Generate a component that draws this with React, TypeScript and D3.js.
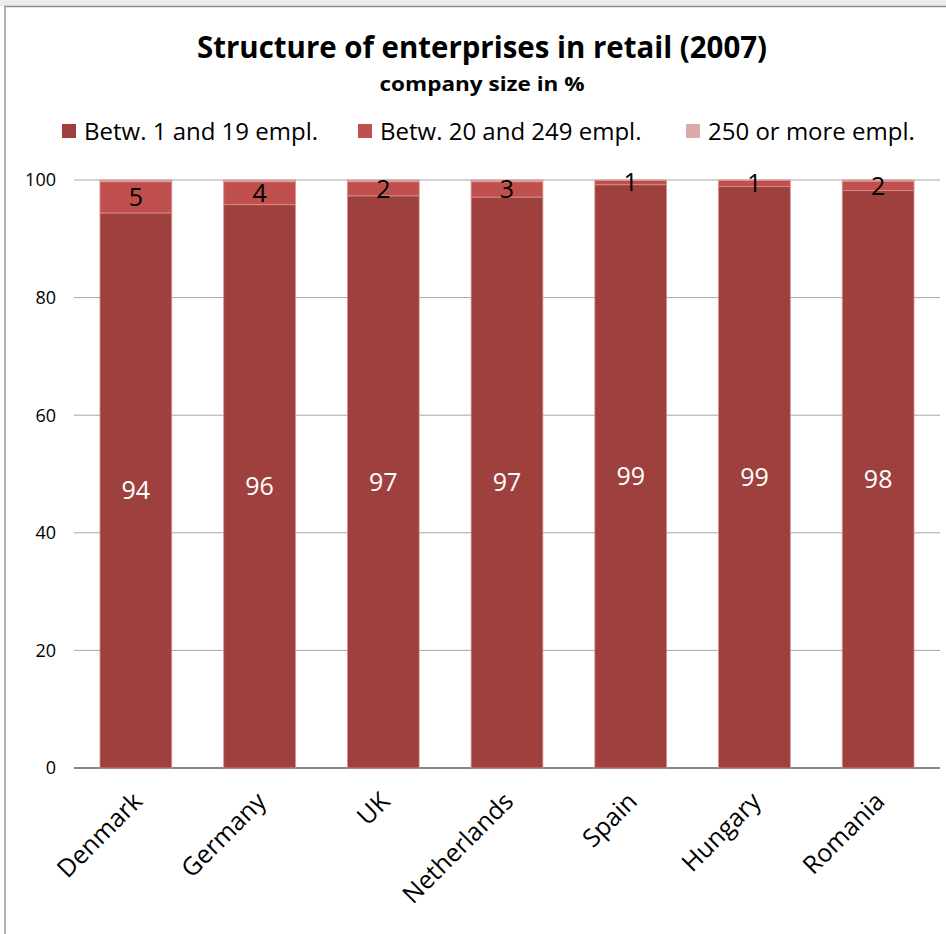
import React from "react";
import * as d3 from "d3";

const countries = ["Denmark", "Germany", "UK", "Netherlands", "Spain", "Hungary", "Romania"];
const small = [94.4, 95.8, 97.3, 97.1, 99.2, 98.9, 98.2];
const medium = [5.3, 3.9, 2.4, 2.6, 0.7, 1.0, 1.6];
const large = [0.3, 0.3, 0.3, 0.3, 0.1, 0.1, 0.2];
const smallLabels = ["94", "96", "97", "97", "99", "99", "98"];
const mediumLabels = ["5", "4", "2", "3", "1", "1", "2"];
const seriesNames = ["Betw. 1 and 19 empl.", "Betw. 20 and 249 empl.", "250 or more empl."];
const yTicks = [0, 20, 40, 60, 80, 100];

const colors = ["#9e413e", "#c0504d", "#dcaaa9"];
const FONT = "'Open Sans', 'DejaVu Sans', sans-serif";

export default function App() {
  const W = 946, H = 934;
  const left = 74, right = 940, top = 180, bottom = 768;
  const x = d3.scaleBand<string>().domain(countries).range([left, right]).paddingInner(0.42).paddingOuter(0.21);
  const y = d3.scaleLinear().domain([0, 100]).range([bottom, top]);

  const rows = countries.map((c, i) => ({ c, s: small[i], m: medium[i], l: large[i] }));
  const stack = d3.stack<any>().keys(["s", "m", "l"])(rows);

  const legendX = [62, 358, 686];

  return (
    <svg width={W} height={H} style={{ display: "block", position: "absolute", left: 0, top: 0 }}>
      <rect x={0} y={0} width={W} height={H} fill="#fff" />
      <rect x={0} y={0} width={W} height={6} fill="#ebebeb" />
      <line x1={4} x2={W} y1={6.5} y2={6.5} stroke="#8c8c8c" strokeWidth={1.5} />
      <line x1={5} x2={5} y1={6} y2={H} stroke="#9a9a9a" strokeWidth={1.5} />

      <text x={482} y={58} textAnchor="middle" fontFamily={FONT} fontWeight="bold" fontSize={30}
        textLength={570} lengthAdjust="spacingAndGlyphs" fill="#000">
        Structure of enterprises in retail (2007)
      </text>
      <text x={482} y={91} textAnchor="middle" fontFamily={FONT} fontWeight="bold" fontSize={20}
        textLength={205} lengthAdjust="spacingAndGlyphs" fill="#000">
        company size in %
      </text>

      {seriesNames.map((n, i) => (
        <g key={n}>
          <rect x={legendX[i]} y={124} width={14} height={14} fill={colors[i]} />
          <text x={legendX[i] + 22} y={140} fontFamily={FONT} fontSize={24} fill="#000">{n}</text>
        </g>
      ))}

      {yTicks.map((t) => (
        <g key={t}>
          <line x1={left} x2={right} y1={y(t)} y2={y(t)} stroke={t === 0 ? "#868686" : "#a6a6a6"} strokeWidth={t === 0 ? 2 : 1} />
          <text x={56} y={y(t)} dy="0.35em" textAnchor="end" fontFamily={FONT} fontSize={18} fill="#000">{t}</text>
        </g>
      ))}

      {stack.map((layer, si) => (
        <g key={si}>
          {layer.map((d, i) => (
            <rect key={i} x={x(countries[i])!} width={x.bandwidth()} y={y(d[1])} height={y(d[0]) - y(d[1])}
              fill={colors[si]} stroke="#d98f8d" strokeWidth={0.8} />
          ))}
        </g>
      ))}

      {countries.map((c, i) => {
        const cx = x(c)! + x.bandwidth() / 2;
        return (
          <g key={c}>
            <text x={cx} y={y(small[i] / 2)} dy="0.35em" textAnchor="middle" fontFamily={FONT} fontSize={25} fill="#fff">{smallLabels[i]}</text>
            <text x={cx} y={y(small[i] + medium[i] / 2)} dy="0.35em" textAnchor="middle" fontFamily={FONT} fontSize={25} fill="#000">{mediumLabels[i]}</text>
            <text transform={`translate(${cx + 8},${bottom + 35}) rotate(-45)`} textAnchor="end" fontFamily={FONT} fontSize={25} fill="#000">{c}</text>
          </g>
        );
      })}
    </svg>
  );
}
